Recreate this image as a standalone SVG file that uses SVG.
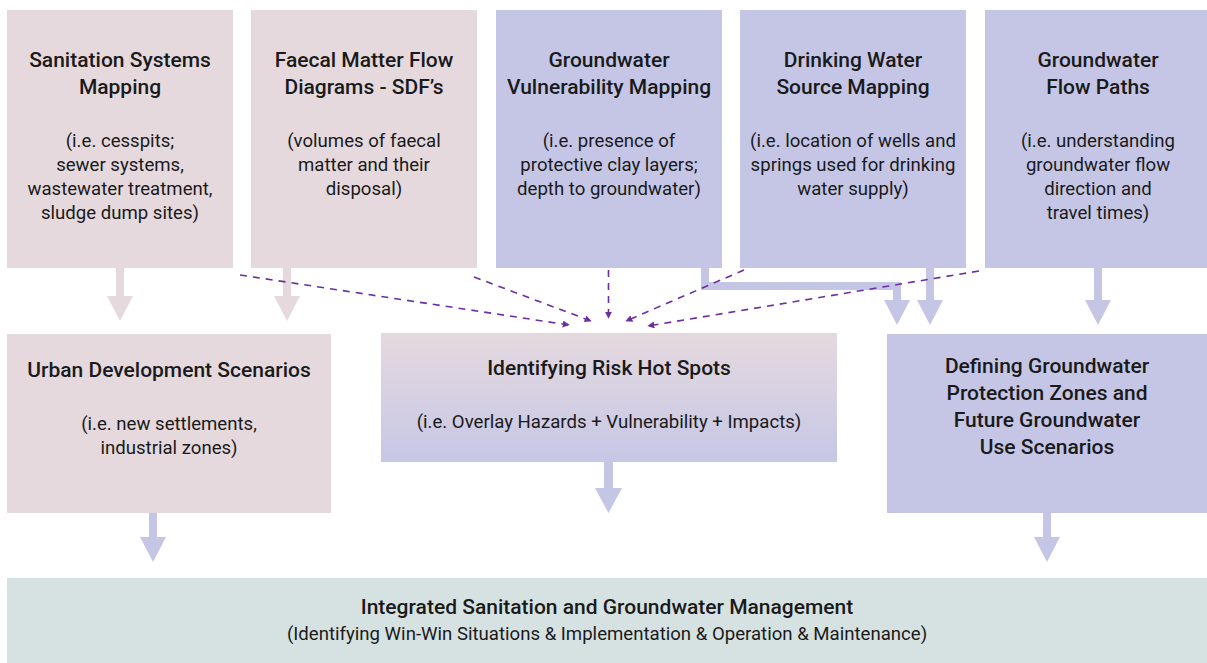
<svg xmlns="http://www.w3.org/2000/svg" width="1207" height="663" viewBox="0 0 1207 663">
<defs>
<linearGradient id="riskGrad" x1="0" y1="0" x2="0" y2="1">
<stop offset="0" stop-color="#e5d9df"/>
<stop offset="1" stop-color="#c6c7e6"/>
</linearGradient>
<marker id="dh" viewBox="0 0 10 10" refX="9" refY="5" markerWidth="7" markerHeight="7" markerUnits="userSpaceOnUse" orient="auto">
<path d="M0,0 L10,5 L0,10 z" fill="#6b2ea3"/>
</marker>
</defs>
<style>
.pink{fill:#e5d9de}
.lav{fill:#c5c6e6}
.t{font-family:Roboto,"Liberation Sans",sans-serif;font-weight:500;font-size:21px;fill:#1a1a1a;text-anchor:middle}
.b{font-family:Roboto,"Liberation Sans",sans-serif;font-weight:400;font-size:18.6px;fill:#1a1a1a;text-anchor:middle}
.dash{fill:none;stroke:#6b2ea3;stroke-width:1.6;stroke-dasharray:7 6;marker-end:url(#dh)}
.pa{fill:#e5d9de}
.la{fill:#c5c6e6}
</style>
<rect width="1207" height="663" fill="#ffffff"/>

<g id="connectors">
<rect class="pa" x="116" y="268" width="8" height="30"/>
<path class="pa" d="M107,296 h26 l-13,25 z"/>
<rect class="pa" x="283" y="268" width="8" height="30"/>
<path class="pa" d="M274,296 h26 l-13,25 z"/>
<polyline points="705,268 705,286 897,286 897,302" fill="none" stroke="#c5c6e6" stroke-width="8"/>
<path class="la" d="M884,300 h26 l-13,25 z"/>
<rect class="la" x="926" y="268" width="8" height="34"/>
<path class="la" d="M917,300 h26 l-13,25 z"/>
<rect class="la" x="1094" y="268" width="8" height="34"/>
<path class="la" d="M1085,300 h26 l-13,25 z"/>
<rect class="la" x="604" y="462" width="9" height="28"/>
<path class="la" d="M595,488 h27 l-13.5,25 z"/>
<rect class="la" x="149" y="513" width="8" height="26"/>
<path class="la" d="M140,537 h26 l-13,25 z"/>
<rect class="la" x="1043" y="513" width="8" height="26"/>
<path class="la" d="M1034,537 h26 l-13,25 z"/>
<path class="dash" d="M240,275 L569,325"/>
<path class="dash" d="M474,277 L591,321"/>
<path class="dash" d="M608.5,270 L608.5,318"/>
<path class="dash" d="M744,270 L626,321"/>
<path class="dash" d="M979,271 L648,326"/>
</g>

<g id="n-sanitation">
<rect class="pink" x="7" y="10" width="226" height="258"/>
<text class="t" x="120" y="67">Sanitation Systems</text>
<text class="t" x="120" y="94">Mapping</text>
<text class="b" x="120" y="147">(i.e. cesspits;</text>
<text class="b" x="120" y="171">sewer systems,</text>
<text class="b" x="120" y="195">wastewater treatment,</text>
<text class="b" x="120" y="219">sludge dump sites)</text>
</g>

<g id="n-faecal">
<rect class="pink" x="251" y="10" width="226" height="258"/>
<text class="t" x="364" y="67">Faecal Matter Flow</text>
<text class="t" x="364" y="94">Diagrams - SDF’s</text>
<text class="b" x="364" y="147">(volumes of faecal</text>
<text class="b" x="364" y="171">matter and their</text>
<text class="b" x="364" y="195">disposal)</text>
</g>

<g id="n-vulnerability">
<rect class="lav" x="496" y="10" width="226" height="258"/>
<text class="t" x="609" y="67">Groundwater</text>
<text class="t" x="609" y="94">Vulnerability Mapping</text>
<text class="b" x="609" y="147">(i.e. presence of</text>
<text class="b" x="609" y="171">protective clay layers;</text>
<text class="b" x="609" y="195">depth to groundwater)</text>
</g>

<g id="n-drinking">
<rect class="lav" x="740" y="10" width="226" height="258"/>
<text class="t" x="853" y="67">Drinking Water</text>
<text class="t" x="853" y="94">Source Mapping</text>
<text class="b" x="853" y="147">(i.e. location of wells and</text>
<text class="b" x="853" y="171">springs used for drinking</text>
<text class="b" x="853" y="195">water supply)</text>
</g>

<g id="n-flowpaths">
<rect class="lav" x="985" y="10" width="226" height="258"/>
<text class="t" x="1098" y="67">Groundwater</text>
<text class="t" x="1098" y="94">Flow Paths</text>
<text class="b" x="1098" y="147">(i.e. understanding</text>
<text class="b" x="1098" y="171">groundwater flow</text>
<text class="b" x="1098" y="195">direction and</text>
<text class="b" x="1098" y="219">travel times)</text>
</g>

<g id="n-urban">
<rect class="pink" x="7" y="334" width="324" height="179"/>
<text class="t" x="169" y="377">Urban Development Scenarios</text>
<text class="b" x="169" y="430">(i.e. new settlements,</text>
<text class="b" x="169" y="454">industrial zones)</text>
</g>

<g id="n-risk">
<rect x="381" y="333" width="456" height="129" fill="url(#riskGrad)"/>
<text class="t" x="609" y="375">Identifying Risk Hot Spots</text>
<text class="b" x="609" y="428">(i.e. Overlay Hazards + Vulnerability + Impacts)</text>
</g>

<g id="n-protection">
<rect class="lav" x="887" y="334" width="320" height="179"/>
<text class="t" x="1047" y="373">Defining Groundwater</text>
<text class="t" x="1047" y="400">Protection Zones and</text>
<text class="t" x="1047" y="427">Future Groundwater</text>
<text class="t" x="1047" y="454">Use Scenarios</text>
</g>

<g id="n-integrated">
<rect x="7" y="578" width="1200" height="85" fill="#d6e2e2"/>
<text class="t" x="607" y="614">Integrated Sanitation and Groundwater Management</text>
<text class="b" x="607" y="640">(Identifying Win-Win Situations &amp; Implementation &amp; Operation &amp; Maintenance)</text>
</g>
</svg>
